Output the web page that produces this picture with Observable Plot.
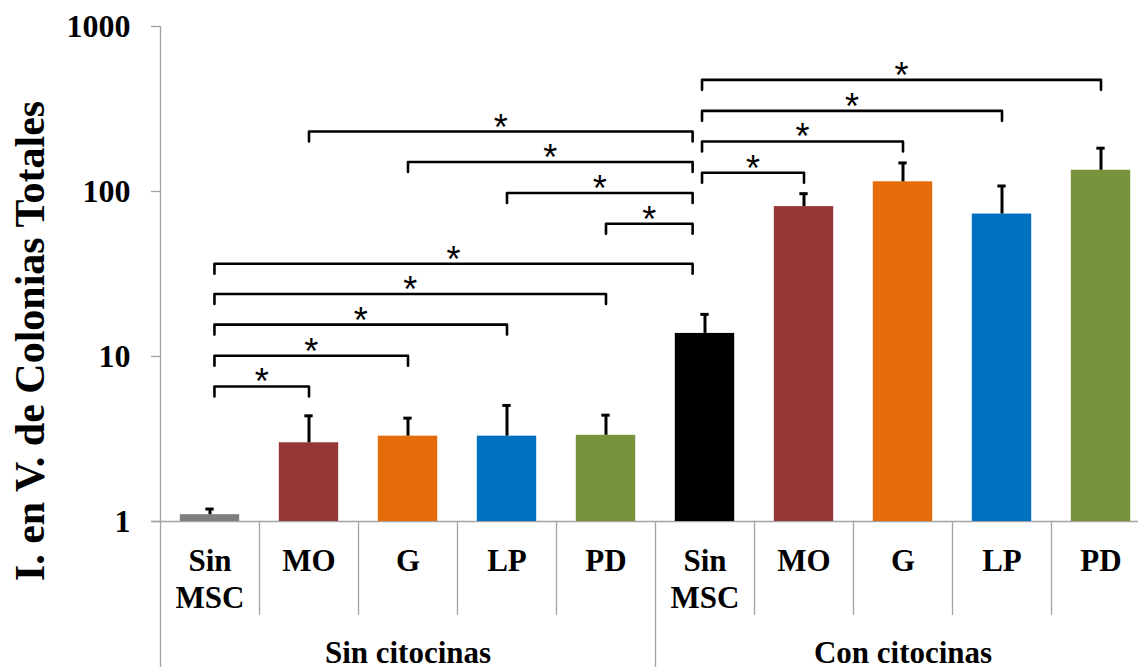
<!DOCTYPE html>
<html>
<head>
<meta charset="utf-8">
<script src="https://cdn.jsdelivr.net/npm/d3@7"></script>
<script src="https://cdn.jsdelivr.net/npm/@observablehq/plot@0.6"></script>
<style>
  html, body { margin: 0; padding: 0; background: #fff; overflow: hidden; width: 1138px; height: 667px; }
  #chart svg { max-width: none !important; display: block; }
</style>
</head>
<body>
<div id="chart"></div>
<script>
// ---- data ----
const categories = ["Sin\nMSC", "MO", "G", "LP", "PD", "Sin\nMSC", "MO", "G", "LP", "PD"];
const groups = ["Sin citocinas", "Con citocinas"];
const values = [1.10, 3.0, 3.29, 3.29, 3.33, 13.8, 81, 114.5, 73, 134.5];
const errorTops = [1.19, 4.37, 4.23, 5.05, 4.41, 18.0, 97, 149, 108, 183];
const barColors = ["#7f7f7f", "#953735", "#e46c0a", "#0070c0", "#77933c", "#000000", "#953735", "#e46c0a", "#0070c0", "#77933c"];
const yTicks = [1, 10, 100, 1000];
const yLabel = "I. en V. de Colonias Totales";
const bracketFrom = [0, 0, 0, 0, 0, 4, 3, 2, 1, 5, 5, 5, 5];
const bracketTo = [1, 2, 3, 4, 5, 5, 5, 5, 5, 6, 7, 8, 9];
const bracketLevel = [6.58, 10.1, 15.6, 23.9, 36.5, 63.7, 98, 151, 231, 130, 201, 308, 475];
const bracketMark = "*";

// ---- derived tables ----
const perGroup = categories.length / groups.length;
const bars = categories.map((c, i) => ({i, c, value: values[i], err: errorTops[i], color: barColors[i]}));
const dropRatio = 0.87;
const brackets = bracketFrom.map((f, k) => {
  const t = bracketTo[k];
  const a = f + 0.5 + (f === 0 ? 0.045 : 0) + (f === perGroup ? -0.03 : 0);
  const b = t + 0.5 + (t === perGroup && f < perGroup ? -0.125 : 0);
  return {k, a, b, level: bracketLevel[k], mid: (a + b) / 2};
});
const bracketPts = brackets.flatMap(d => [
  {k: d.k, x: d.a, y: d.level * dropRatio},
  {k: d.k, x: d.a, y: d.level},
  {k: d.k, x: d.b, y: d.level},
  {k: d.k, x: d.b, y: d.level * dropRatio}
]);
const boundaries = d3.range(1, categories.length).map(i => ({x: i, major: i % perGroup === 0}));

const serif = "'Liberation Serif', 'Times New Roman', serif";
const gray = "#a3a3a3";

const chart = Plot.plot({
  width: 1151,
  height: 667,
  marginLeft: 160,
  marginRight: 1,
  marginTop: 26,
  marginBottom: 146,
  style: {maxWidth: "none", fontFamily: serif, background: "#fff"},
  x: {type: "linear", domain: [0, categories.length], axis: null},
  y: {type: "log", domain: [1, 1000], axis: null},
  color: {type: "identity"},
  marks: [
    // axis lines & separators
    Plot.ruleX([0], {x: d => d, y1: 1000, y2: 1, insetBottom: -146, stroke: gray, strokeWidth: 1.3}),
    Plot.ruleY([1], {y: d => d, x1: 0, x2: categories.length, insetLeft: -9, stroke: gray, strokeWidth: 1.3}),
    Plot.ruleX(boundaries.filter(d => !d.major), {x: "x", y1: 1, y2: 1, insetBottom: -94, stroke: gray, strokeWidth: 1.3}),
    Plot.ruleX(boundaries.filter(d => d.major), {x: "x", y1: 1, y2: 1, insetBottom: -146, stroke: gray, strokeWidth: 1.3}),
    Plot.axisY({ticks: yTicks, tickFormat: d => String(d), tickSize: 9, tickPadding: 21, fontSize: 32, fontWeight: "bold", fontFamily: serif, stroke: gray, strokeWidth: 1.3, color: "#000", label: null}),
    // bars
    Plot.rect(bars, {x1: d => d.i + 0.2, x2: d => d.i + 0.8, y1: () => 1, y2: "value", fill: "color"}),
    // error bars
    Plot.ruleX(bars, {x: d => d.i + 0.5, y1: "value", y2: "err", stroke: "#000", strokeWidth: 3}),
    Plot.ruleY(bars, {y: "err", x1: d => d.i + 0.5 - 0.042, x2: d => d.i + 0.5 + 0.042, stroke: "#000", strokeWidth: 3}),
    // significance brackets
    Plot.line(bracketPts, {x: "x", y: "y", z: "k", stroke: "#000", strokeWidth: 2.6, strokeLinejoin: "round", curve: "linear"}),
    Plot.text(brackets, {x: "mid", y: "level", text: () => bracketMark, lineAnchor: "bottom", dy: 8, fontSize: 36, fontFamily: "'Liberation Sans', Arial, sans-serif", fill: "#000"}),
    // category labels
    Plot.text(categories, {x: (d, i) => i + 0.5, frameAnchor: "bottom", lineAnchor: "top", lineHeight: 1.2, dy: 22.6, text: d => d, fontSize: 31, fontWeight: "bold", fontFamily: serif, fill: "#000"}),
    // group labels
    Plot.text(groups, {x: (d, i) => i * perGroup + perGroup / 2, frameAnchor: "bottom", lineAnchor: "bottom", dy: 141, text: d => d, fontSize: 31, fontWeight: "bold", fontFamily: serif, fill: "#000"}),
    // y title
    Plot.text([yLabel], {frameAnchor: "left", text: d => d, rotate: -90, lineAnchor: "bottom", textAnchor: "middle", dx: -117, dy: 67, fontSize: 42, fontWeight: "bold", fontFamily: serif, fill: "#000"})
  ]
});
document.getElementById("chart").appendChild(chart);
</script>
</body>
</html>
